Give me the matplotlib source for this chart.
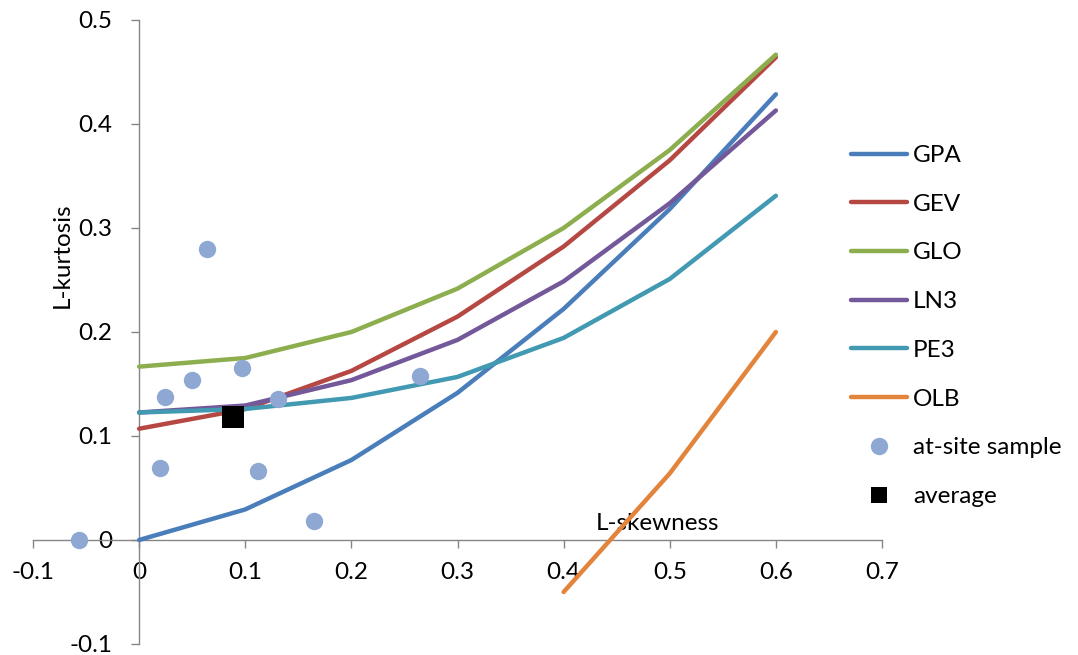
import matplotlib
matplotlib.use("Agg")
import matplotlib.pyplot as plt
from matplotlib.ticker import FixedLocator, FuncFormatter

# L-moment ratio diagram: theoretical curves and at-site samples
tau3 = [0.0, 0.1, 0.2, 0.3, 0.4, 0.5, 0.6]
gpa = [0.0, 0.0294, 0.0769, 0.1415, 0.2222, 0.3182, 0.4286]
gev = [0.1070, 0.1259, 0.1626, 0.2148, 0.2822, 0.3651, 0.4641]
glo = [0.1667, 0.1750, 0.2000, 0.2417, 0.3000, 0.3750, 0.4667]
ln3 = [0.1226, 0.1293, 0.1537, 0.1924, 0.2487, 0.3238, 0.4130]
pe3 = [0.1226, 0.1260, 0.1366, 0.1568, 0.1943, 0.2510, 0.3310]

olb_tau3 = [0.4, 0.5, 0.6]
olb = [-0.050, 0.064, 0.200]

site_tau3 = [-0.0565, 0.0241, 0.0194, 0.0499, 0.0636, 0.0969, 0.1116, 0.1313, 0.1646, 0.2643]
site_tau4 = [0.0, 0.1375, 0.0690, 0.1540, 0.2800, 0.1650, 0.0660, 0.1356, 0.0186, 0.1580]

avg_tau3 = [0.088]
avg_tau4 = [0.118]

x_ticks = [-0.1, 0.0, 0.1, 0.2, 0.3, 0.4, 0.5, 0.6, 0.7]
y_ticks = [-0.1, 0.0, 0.1, 0.2, 0.3, 0.4, 0.5]

plt.rcParams["font.family"] = ["Lato", "DejaVu Sans"]
FS = 17.5
AXIS_GREY = "#868686"

fig = plt.figure(figsize=(10.78, 6.55), dpi=100)
ax = fig.add_axes([33 / 1078, 1 - 644 / 655, (882 - 33) / 1078, (644 - 20) / 655])

lw = 3.2
curves = [
    (tau3, gpa, "GPA", "#4A7EBB"),
    (tau3, gev, "GEV", "#B64844"),
    (tau3, glo, "GLO", "#8DAE4E"),
    (tau3, ln3, "LN3", "#73589A"),
    (tau3, pe3, "PE3", "#4199B2"),
    (olb_tau3, olb, "OLB", "#E3843C"),
]
for xs, ys, name, col in curves:
    ax.plot(xs, ys, color=col, lw=lw, label=name,
            solid_capstyle="round", solid_joinstyle="round", zorder=3)

ax.plot(site_tau3, site_tau4, linestyle="none", marker="o", markersize=12.5,
        markerfacecolor="#8FA8D3", markeredgewidth=0, label="at-site sample", zorder=4)
ax.plot(avg_tau3, avg_tau4, linestyle="none", marker="s", markersize=15.5,
        markerfacecolor="black", markeredgewidth=0, label="average", zorder=5)

ax.set_xlim(-0.1, 0.7)
ax.set_ylim(-0.1, 0.5)

# Axes cross at the origin
for side in ("top", "right"):
    ax.spines[side].set_visible(False)
ax.spines["left"].set_position(("data", 0))
ax.spines["bottom"].set_position(("data", 0))
for side in ("left", "bottom"):
    ax.spines[side].set_color(AXIS_GREY)
    ax.spines[side].set_linewidth(1.0)

fmt = FuncFormatter(lambda v, pos: "{:g}".format(round(v, 2)))
ax.xaxis.set_major_locator(FixedLocator(x_ticks))
ax.yaxis.set_major_locator(FixedLocator(y_ticks))
ax.xaxis.set_major_formatter(fmt)
ax.yaxis.set_major_formatter(fmt)
ax.tick_params(axis="both", direction="out", length=6, width=1.0,
               color=AXIS_GREY, labelsize=FS, labelcolor="black")
ax.tick_params(axis="x", pad=10)
ax.tick_params(axis="y", pad=13)

ax.set_xlabel("L-skewness", fontsize=FS, va="center")
ax.xaxis.set_label_coords((657 - 33) / 849, (644 - 523) / 624)
ax.set_ylabel("L-kurtosis", fontsize=FS, va="center")
ax.yaxis.set_label_coords((62 - 33) / 849, (644 - 255) / 624)

leg = fig.legend(loc="upper left", bbox_to_anchor=(851 / 1078, 1 - 145 / 655),
                 frameon=False, fontsize=FS, handlelength=2.3, handletextpad=0.25,
                 labelspacing=1.14, numpoints=1, borderaxespad=0, borderpad=0)
for h in leg.legend_handles:
    if h.get_marker() == "s":
        h.set_markersize(12)

fig.savefig("out.png", dpi=100)
